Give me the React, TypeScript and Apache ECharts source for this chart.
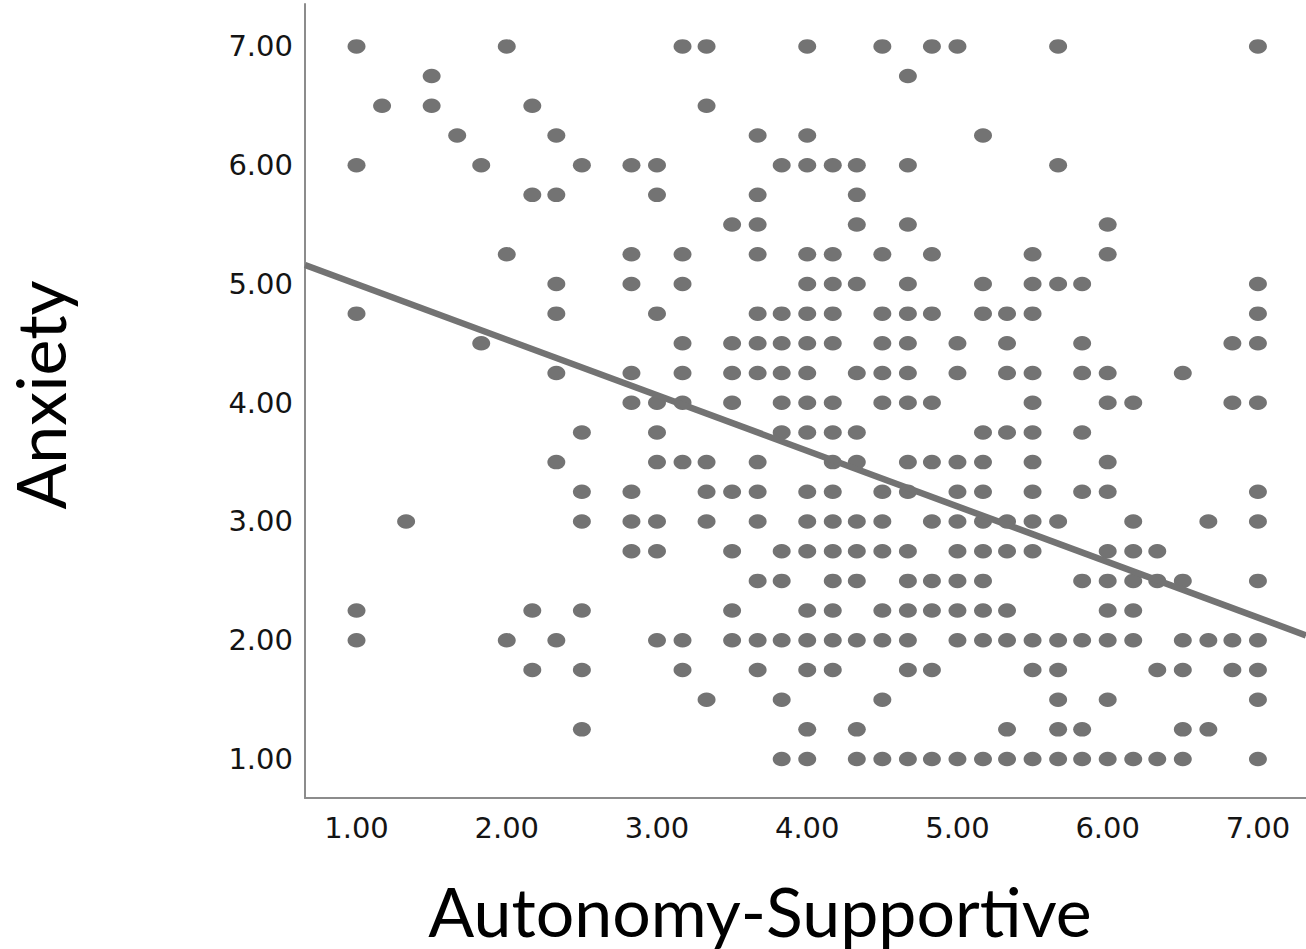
import React, { useEffect, useRef } from "react";
import * as echarts from "echarts";

// Anxiety levels (y), one row of dots per level
const anxietyLevels = [
  7.0, 6.75, 6.5, 6.25, 6.0, 5.75, 5.5, 5.25, 5.0, 4.75, 4.5, 4.25, 4.0,
  3.75, 3.5, 3.25, 3.0, 2.75, 2.5, 2.25, 2.0, 1.75, 1.5, 1.25, 1.0,
];

// Autonomy-Supportive values (x) observed at each anxiety level
const autonomyAtLevel: number[][] = [
  [1.0, 2.0, 3.17, 3.33, 4.0, 4.5, 4.83, 5.0, 5.67, 7.0],
  [1.5, 4.67],
  [1.17, 1.5, 2.17, 3.33],
  [1.67, 2.33, 3.67, 4.0, 5.17],
  [1.0, 1.83, 2.5, 2.83, 3.0, 3.83, 4.0, 4.17, 4.33, 4.67, 5.67],
  [2.17, 2.33, 3.0, 3.67, 4.33],
  [3.5, 3.67, 4.33, 4.67, 6.0],
  [2.0, 2.83, 3.17, 3.67, 4.0, 4.17, 4.5, 4.83, 5.5, 6.0],
  [2.33, 2.83, 3.17, 4.0, 4.17, 4.33, 4.67, 5.17, 5.5, 5.67, 5.83, 7.0],
  [1.0, 2.33, 3.0, 3.67, 3.83, 4.0, 4.17, 4.5, 4.67, 4.83, 5.17, 5.33, 5.5, 7.0],
  [1.83, 3.17, 3.5, 3.67, 3.83, 4.0, 4.17, 4.5, 4.67, 5.0, 5.33, 5.83, 6.83, 7.0],
  [2.33, 2.83, 3.17, 3.5, 3.67, 3.83, 4.0, 4.33, 4.5, 4.67, 5.0, 5.33, 5.5, 5.83, 6.0, 6.5],
  [2.83, 3.0, 3.17, 3.5, 3.83, 4.0, 4.17, 4.5, 4.67, 4.83, 5.5, 6.0, 6.17, 6.83, 7.0],
  [2.5, 3.0, 3.83, 4.0, 4.17, 4.33, 5.17, 5.33, 5.5, 5.83],
  [2.33, 3.0, 3.17, 3.33, 3.67, 4.17, 4.33, 4.67, 4.83, 5.0, 5.17, 5.5, 6.0],
  [2.5, 2.83, 3.33, 3.5, 3.67, 4.0, 4.17, 4.5, 4.67, 5.0, 5.17, 5.5, 5.83, 6.0, 7.0],
  [1.33, 2.5, 2.83, 3.0, 3.33, 3.67, 4.0, 4.17, 4.33, 4.5, 4.83, 5.0, 5.17, 5.33, 5.5, 5.67, 6.17, 6.67, 7.0],
  [2.83, 3.0, 3.5, 3.83, 4.0, 4.17, 4.33, 4.5, 4.67, 5.0, 5.17, 5.33, 5.5, 6.0, 6.17, 6.33],
  [3.67, 3.83, 4.17, 4.33, 4.67, 4.83, 5.0, 5.17, 5.83, 6.0, 6.17, 6.33, 6.5, 7.0],
  [1.0, 2.17, 2.5, 3.5, 4.0, 4.17, 4.5, 4.67, 4.83, 5.0, 5.17, 5.33, 6.0, 6.17],
  [1.0, 2.0, 2.33, 3.0, 3.17, 3.5, 3.67, 3.83, 4.0, 4.17, 4.33, 4.5, 4.67, 5.0, 5.17, 5.33, 5.5, 5.67, 5.83, 6.0, 6.17, 6.5, 6.67, 6.83, 7.0],
  [2.17, 2.5, 3.17, 3.67, 4.0, 4.17, 4.67, 4.83, 5.5, 5.67, 6.33, 6.5, 6.83, 7.0],
  [3.33, 3.83, 4.5, 5.67, 6.0, 7.0],
  [2.5, 4.0, 4.33, 5.33, 5.67, 5.83, 6.5, 6.67],
  [3.83, 4.0, 4.33, 4.5, 4.67, 4.83, 5.0, 5.17, 5.33, 5.5, 5.67, 5.83, 6.0, 6.17, 6.33, 6.5, 7.0],
];

// Fit line (linear regression)
const fitIntercept = 5.467;
const fitSlope = -0.468;

// Tick labels
const tickValues = [1, 2, 3, 4, 5, 6, 7];

const xTitle = "Autonomy-Supportive";
const yTitle = "Anxiety";

const X_MIN = 0.657;
const X_MAX = 7.32;
const Y_MIN = 0.672;
const Y_MAX = 7.357;

export default function App() {
  const ref = useRef<HTMLDivElement>(null);

  useEffect(() => {
    if (!ref.current) return;
    const chart = echarts.init(ref.current, undefined, { renderer: "svg" });

    const points: number[][] = [];
    anxietyLevels.forEach((y, i) => {
      autonomyAtLevel[i].forEach((x) => points.push([x, y]));
    });

    const fitLine = [
      [X_MIN, fitIntercept + fitSlope * X_MIN],
      [X_MAX, fitIntercept + fitSlope * X_MAX],
    ];

    const labelStyle = {
      fontFamily: "DejaVu Sans",
      fontSize: 29,
      color: "#141414",
      formatter: (v: number) => v.toFixed(2),
      customValues: tickValues,
    };

    chart.setOption({
      animation: false,
      backgroundColor: "#ffffff",
      grid: { left: 305, top: 4, right: 0, bottom: 151, containLabel: false },
      xAxis: {
        type: "value",
        min: X_MIN,
        max: X_MAX,
        axisLine: { show: true, onZero: false, lineStyle: { color: "#8c8c8c", width: 2 } },
        axisTick: { show: false },
        splitLine: { show: false },
        axisLabel: { ...labelStyle, margin: 15 },
      },
      yAxis: {
        type: "value",
        min: Y_MIN,
        max: Y_MAX,
        axisLine: { show: true, onZero: false, lineStyle: { color: "#8c8c8c", width: 2 } },
        axisTick: { show: false },
        splitLine: { show: false },
        axisLabel: { ...labelStyle, margin: 12 },
      },
      series: [
        {
          type: "scatter",
          data: points,
          symbol: "circle",
          symbolSize: [18, 14.5],
          itemStyle: { color: "#737373", opacity: 1 },
          z: 2,
        },
        {
          type: "line",
          data: fitLine,
          showSymbol: false,
          symbol: "none",
          lineStyle: { color: "#737373", width: 6.5, opacity: 1 },
          z: 3,
        },
      ],
      graphic: [
        {
          type: "text",
          x: 760,
          y: 910,
          style: {
            text: xTitle,
            fontFamily: "Lato",
            fontSize: 68,
            fill: "#000000",
            align: "center",
            verticalAlign: "middle",
            textAlign: "center",
            textVerticalAlign: "middle",
          },
        },
        {
          type: "text",
          x: 39,
          y: 395,
          rotation: Math.PI / 2,
          style: {
            text: yTitle,
            fontFamily: "Lato",
            fontSize: 68,
            fill: "#000000",
            align: "center",
            verticalAlign: "middle",
            textAlign: "center",
            textVerticalAlign: "middle",
          },
        },
      ],
    });

    return () => chart.dispose();
  }, []);

  return (
    <div
      ref={ref}
      style={{ position: "fixed", left: 0, top: 0, width: 1306, height: 949 }}
    />
  );
}
